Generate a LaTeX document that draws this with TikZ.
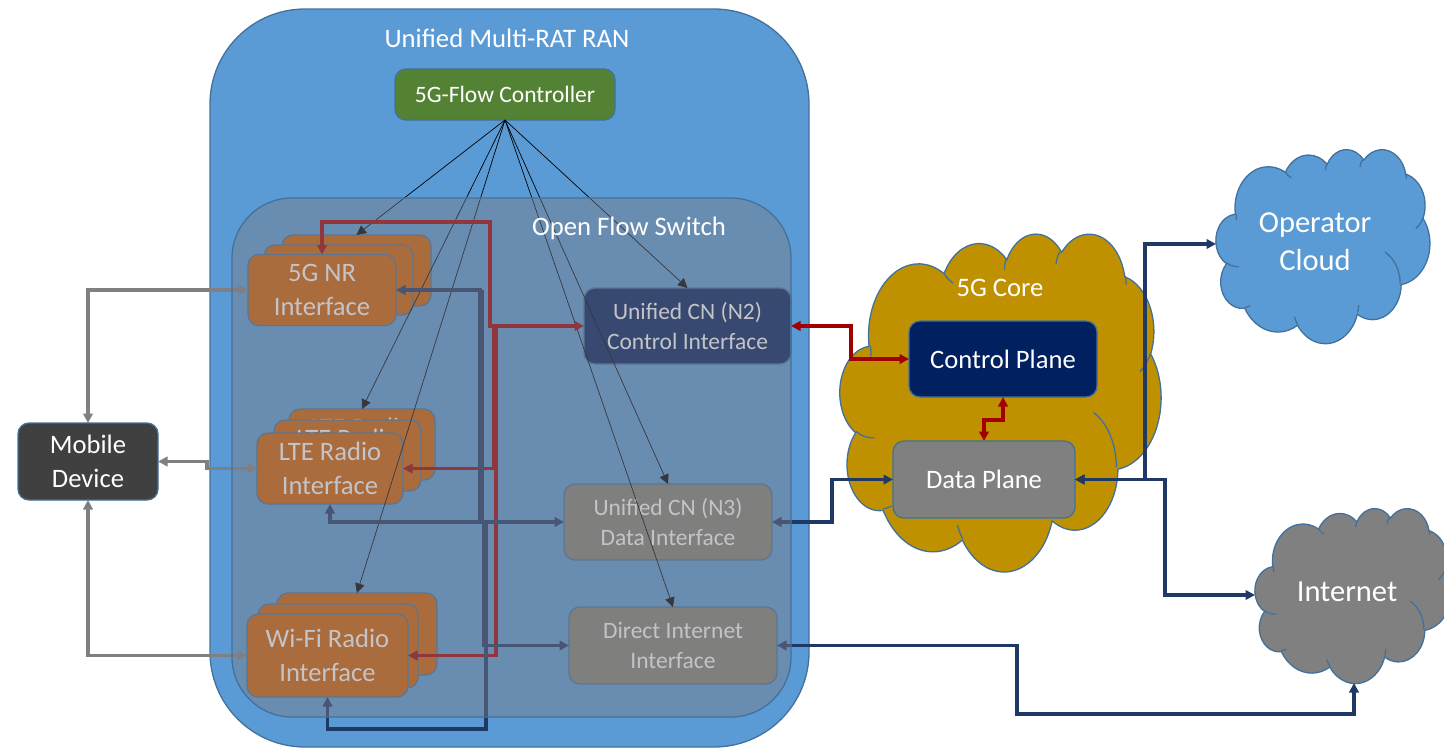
\documentclass[tikz,border=0pt]{standalone}
\usepackage{fontspec}
\setmainfont{Carlito}
\usetikzlibrary{arrows.meta}
\definecolor{ranblue}{HTML}{5B9BD5}
\definecolor{edgeblue}{HTML}{41719C}
\definecolor{wireblue}{HTML}{1F3864}
\definecolor{wirered}{HTML}{A00000}
\definecolor{radioorange}{HTML}{D15F00}
\definecolor{coregold}{HTML}{BF9000}
\definecolor{flowgreen}{HTML}{548235}
\definecolor{planenavy}{HTML}{002060}
\definecolor{switchgray}{RGB}{124,124,135}
\definecolor{portgray}{RGB}{130,130,120}
\newcommand{\lobe}[4]{arc[x radius=#1,y radius=#2,start angle={lobestart(#1,#2,#3)},delta angle={lobesweep(#1,#2,#3,#4)}]}
\tikzset{
  declare function={
    lobestart(\w,\h,\a)=atan2(\w*sin(\a),\h*cos(\a));
    lobesweep(\w,\h,\a,\d)=mod(lobestart(\w,\h,\a+\d)-lobestart(\w,\h,\a)+720,360);
  },
  plainbox/.style={draw=edgeblue,line width=1.3pt,rounded corners=11pt,inner sep=0pt,outer sep=0pt,
    text=white,align=center,font=\fontsize{26.6}{34}\selectfont},
  smallbox/.style={plainbox,font=\fontsize{23.5}{30}\selectfont},
  radiobox/.style={plainbox,fill=radioorange},
  graybox/.style={plainbox,fill=black!50},
  plaintext/.style={text=white,align=center,inner sep=0pt,font=\fontsize{26.7}{30}\selectfont},
  cloudtext/.style={plaintext,font=\fontsize{30.5}{38}\selectfont},
  cloudbody/.style={draw=edgeblue,line width=1.3pt},
  thinarrow/.style={draw=black,line width=.7pt,-{Triangle[length=9.5pt,width=9.5pt]}},
  wire/.style={line width=3.3pt,>={Triangle[length=9.5pt,width=9.5pt]}},
  graywire/.style={wire,draw=black!50},
  bluewire/.style={wire,draw=wireblue},
  redwire/.style={wire,draw=wirered},
  officecloud/.pic={
    \draw[pic actions] (39,143.7) \lobe{67.53}{91.9}{-190.4875}{123.7805}
      \lobe{53.33}{72.67}{-144.1024}{89.9452}
      \lobe{43.65}{59.45}{-145.8079}{99.723}
      \lobe{48.57}{65.95}{-130.9861}{117.2417}
      \lobe{53.33}{72.73}{-78.7089}{109.0269}
      \lobe{67.75}{92.2}{-46.2673}{130.269}
      \lobe{57.85}{78.67}{.625}{114.0333}
      \lobe{67.52}{92.15}{22.4516}{115.1726}
      \lobe{77.2}{105.43}{66.2426}{75.711}
      \lobe{43.6}{59.18}{-274.9421}{146.7356}
      \lobe{43.45}{59.45}{-246.8285}{152.5189} -- cycle;
    \draw[cloudbody] (46.93,261.77) \lobe{43.45}{59.45}{86.74}{26.43};
    \draw[cloudbody] (69.28,348.99) \lobe{43.6}{59.18}{73.61}{11.45};
    \draw[cloudbody] (164.78,390.9) \lobe{67.52}{92.15}{137.62}{14.08};
    \draw[cloudbody] (288.27,347.51) \lobe{67.52}{92.15}{6.45}{14};
    \draw[cloudbody] (341.29,229.54) \lobe{57.85}{78.67}{-68.6}{69.2};
    \draw[cloudbody] (417.98,153.54) to[bend left=12] (403.7,177.3);
    \draw[cloudbody] (383.24,54.26) to[bend left=12] (385,66);
    \draw[cloudbody] (290.78,39.52) to[bend left=12] (296,24);
    \draw[cloudbody] (221.41,47.2) to[bend left=12] (224.3,32.3);
    \draw[cloudbody] (140,51.92) to[bend right=12] (152.5,64.3);
    \draw[cloudbody] (41.27,157.89) to[bend right=12] (40.4,144);
  }
}
\begin{document}
\begin{tikzpicture}[x=1pt,y=-1pt]
  \useasboundingbox (0,0) rectangle (1444,748);
  \draw[draw=edgeblue,fill=ranblue,line width=1.3pt,rounded corners=95pt] (210,9) rectangle (809,747);
  \node[plaintext] (ran) at (507,38) {Unified Multi-RAT RAN};
  \node[smallbox,fill=flowgreen,minimum width=220pt,minimum height=51pt] (controller) at (505,94.5) {5G-Flow Controller};

  \pic[fill=coregold,cloudbody,xscale=.743,yscale=.782] at (840,233) {officecloud};
  \pic[fill=ranblue,cloudbody,xscale=.495,yscale=.449] at (1216,149) {officecloud};
  \pic[fill=black!50,cloudbody,xscale=.454,yscale=.405] at (1255,508) {officecloud};
  \node[plaintext] (core) at (1000,288) {5G Core};
  \node[cloudtext] (operator) at (1315,242) {Operator\\Cloud};
  \node[cloudtext] (internet) at (1347,592) {Internet};
  \coordinate (operleft) at (1216,244);
  \coordinate (inetleft) at (1255,595);
  \coordinate (inetlow) at (1354,683);

  \node[plainbox,fill=black!75,minimum width=140pt,minimum height=77pt] (mobile) at (88,461.5) {Mobile\\Device};
  \node[plainbox,fill=planenavy,minimum width=188pt,minimum height=76pt] (control) at (1003,359) {Control Plane};
  \node[graybox,minimum width=182pt,minimum height=77pt] (data) at (984,479.5) {Data Plane};

  \node[radiobox,minimum width=149pt,minimum height=71pt] (nrback) at (356.5,270.5) {};
  \node[radiobox,minimum width=149pt,minimum height=70pt] (nrmid) at (338.5,280) {};
  \node[radiobox,minimum width=148pt,minimum height=71pt] (nrfront) at (322,290) {5G NR\\Interface};
  \node[radiobox,minimum width=146pt,minimum height=71pt] (lteback) at (362,444.5) {LTE Radio\\Interface};
  \node[radiobox,minimum width=147pt,minimum height=71pt] (ltemid) at (347.5,455.5) {LTE Radio\\Interface};
  \node[radiobox,minimum width=146pt,minimum height=71pt] (ltefront) at (330,468.5) {LTE Radio\\Interface};
  \node[radiobox,minimum width=160pt,minimum height=82pt] (wifiback) at (357,634) {};
  \node[radiobox,minimum width=160pt,minimum height=84pt] (wifimid) at (338,646) {};
  \node[radiobox,minimum width=161pt,minimum height=83pt] (wififront) at (327.5,655.5) {Wi-Fi Radio\\Interface};

  \node[smallbox,fill=planenavy,minimum width=207pt,minimum height=76pt] (n2) at (687.5,326) {Unified CN (N2)\\Control Interface};
  \node[smallbox,fill=portgray,minimum width=208pt,minimum height=76pt] (n3) at (668,522) {Unified CN (N3)\\Data Interface};
  \node[smallbox,fill=portgray,minimum width=208pt,minimum height=77pt] (direct) at (673,645.5) {Direct Internet\\Interface};

  \draw[thinarrow] (controller.south) -- (nrback.north);
  \draw[thinarrow] (controller.south) -- (lteback.north);
  \draw[thinarrow] (controller.south) -- (wifiback.north);
  \draw[thinarrow] (controller.south) -- (n2.north);
  \draw[thinarrow] (controller.south) -- (n3.north);
  \draw[thinarrow] (controller.south) -- (direct.north);

  \coordinate (gapbend) at (207,464);
  \draw[graywire,<->] (mobile.north) |- (nrfront.west);
  \draw[graywire,<->] (mobile.east) -| (gapbend) |- (ltefront.west);
  \draw[graywire,<->] (mobile.south) |- (wififront.west);

  \coordinate (redtop) at (490,222);
  \coordinate (redbusa) at (493.5,326);
  \coordinate (redbusb) at (496,326);
  \coordinate (n2bend) at (851,340);
  \coordinate (cpbend) at (990,420);
  \draw[redwire,<->] (nrfront.north) |- (redtop) |- (n2.west);
  \draw[redwire,->] (redbusa) |- (ltefront.east);
  \draw[redwire,->] (redbusb) |- (wififront.east);
  \draw[redwire,<->] (n2.east) -| (n2bend) |- (control.west);
  \draw[redwire,<->] (control.south) |- (cpbend) -| (data.north);

  \coordinate (bluebusa) at (480,522);
  \coordinate (bluebusb) at (482.5,290);
  \coordinate (bluebusc) at (486,522);
  \coordinate (bluebusd) at (483.5,522);
  \coordinate (n3bend) at (832,500);
  \coordinate (upbus) at (1145,360);
  \coordinate (downbus) at (1165,540);
  \coordinate (dirlow) at (1017,714);
  \draw[bluewire,<-] (nrfront.east) -| (bluebusa);
  \draw[bluewire,<->] (ltefront.south) |- (n3.west);
  \draw[bluewire,->] (bluebusb) |- (bluebusd) |- (direct.west);
  \draw[bluewire,<-] (wififront.south) -- ++(0,32) -| (bluebusc);
  \draw[bluewire,<->] (n3.east) -| (n3bend) |- (data.west);
  \draw[bluewire,<->] (data.east) -| (upbus) |- (operleft);
  \draw[bluewire,<->] (data.east) -| (downbus) |- (inetleft);
  \draw[bluewire,<->] (direct.east) -| (dirlow) -| (inetlow);

  \draw[draw=edgeblue,fill=switchgray,fill opacity=.45,line width=1.3pt,rounded corners=60pt] (232,198) rectangle (791,717);
  \node[plaintext] (switch) at (629,228) {Open Flow Switch};
\end{tikzpicture}
\end{document}
